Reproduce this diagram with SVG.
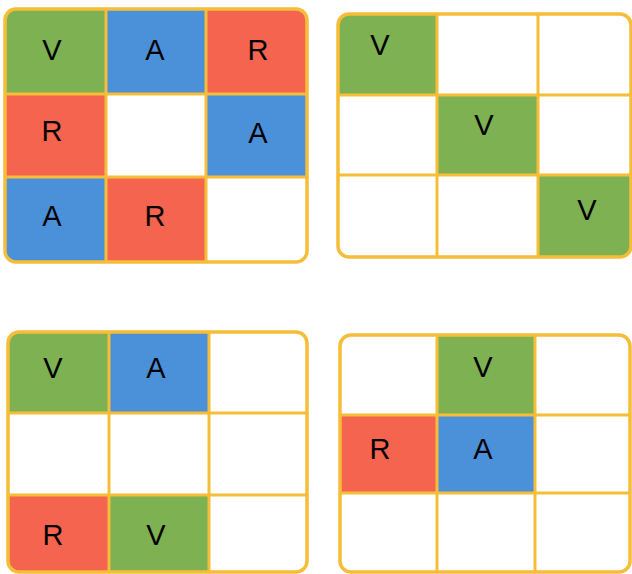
<svg xmlns="http://www.w3.org/2000/svg" width="632" height="574" viewBox="0 0 632 574">
<style>
.g{fill:#7db152}.b{fill:#4b91da}.r{fill:#f5644f}
.ln{stroke:#f5bd38;stroke-width:3;fill:none}
.fr{stroke:#f5bd38;stroke-width:3.5;fill:none}
text{font-family:"Liberation Sans",Arial,sans-serif;font-size:29px;fill:#000;text-anchor:middle;dominant-baseline:central}
</style>
<defs>
<clipPath id="c1"><rect x="5" y="9" width="302" height="253" rx="11"/></clipPath>
<clipPath id="c2"><rect x="338" y="14" width="293" height="243" rx="11"/></clipPath>
<clipPath id="c3"><rect x="8" y="332" width="299" height="240" rx="11"/></clipPath>
<clipPath id="c4"><rect x="340" y="335" width="290" height="237" rx="11"/></clipPath>
</defs>
<rect width="632" height="574" fill="#fff"/>
<g id="grid1">
<g clip-path="url(#c1)">
<rect class="g" x="5" y="9" width="101" height="85"/>
<rect class="b" x="106" y="9" width="100" height="85"/>
<rect class="r" x="206" y="9" width="101" height="85"/>
<rect class="r" x="5" y="94" width="101" height="83"/>
<rect class="b" x="206" y="94" width="101" height="83"/>
<rect class="b" x="5" y="177" width="101" height="85"/>
<rect class="r" x="106" y="177" width="100" height="85"/>
</g>
<path class="ln" d="M106 9V262M206 9V262M5 94H307M5 177H307"/>
<rect class="fr" x="5" y="9" width="302" height="253" rx="11"/>
<text x="52" y="50">V</text><text x="155" y="50">A</text><text x="258" y="50">R</text>
<text x="52" y="131">R</text><text x="258" y="133">A</text>
<text x="52" y="216">A</text><text x="155" y="216">R</text>
</g>
<g id="grid2">
<g clip-path="url(#c2)">
<rect class="g" x="338" y="14" width="99" height="81"/>
<rect class="g" x="437" y="95" width="101" height="80"/>
<rect class="g" x="538" y="175" width="93" height="82"/>
</g>
<path class="ln" d="M437 14V257M538 14V257M338 95H631M338 175H631"/>
<rect class="fr" x="338" y="14" width="293" height="243" rx="11"/>
<text x="380" y="45">V</text><text x="484" y="125">V</text><text x="587" y="210">V</text>
</g>
<g id="grid3">
<g clip-path="url(#c3)">
<rect class="g" x="8" y="332" width="101" height="81"/>
<rect class="b" x="109" y="332" width="100" height="81"/>
<rect class="r" x="8" y="495" width="101" height="77"/>
<rect class="g" x="109" y="495" width="100" height="77"/>
</g>
<path class="ln" d="M109 332V572M209 332V572M8 413H307M8 495H307"/>
<rect class="fr" x="8" y="332" width="299" height="240" rx="11"/>
<text x="53" y="368">V</text><text x="156" y="368">A</text>
<text x="53" y="535">R</text><text x="156" y="535">V</text>
</g>
<g id="grid4">
<g clip-path="url(#c4)">
<rect class="g" x="437" y="335" width="98" height="80"/>
<rect class="r" x="340" y="415" width="97" height="78"/>
<rect class="b" x="437" y="415" width="98" height="78"/>
</g>
<path class="ln" d="M437 335V572M535 335V572M340 415H630M340 493H630"/>
<rect class="fr" x="340" y="335" width="290" height="237" rx="11"/>
<text x="483" y="367">V</text><text x="380" y="449">R</text><text x="483" y="449">A</text>
</g>
</svg>
